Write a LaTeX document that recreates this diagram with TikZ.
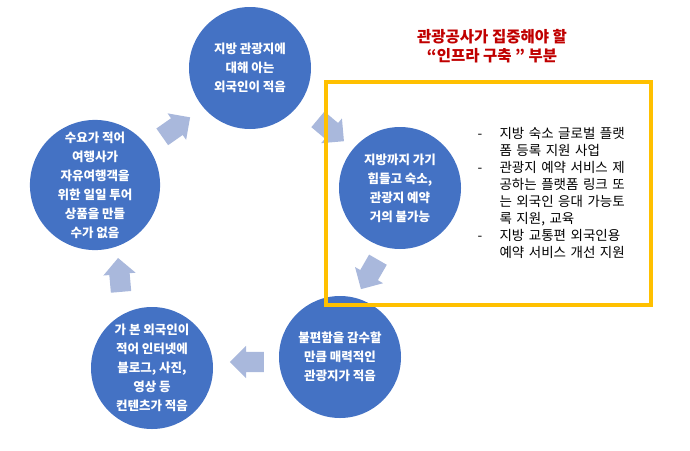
\documentclass[tikz,border=0pt]{standalone}
\usepackage{fontspec}
\setmainfont{Noto Sans CJK KR}
\usetikzlibrary{shapes.arrows}
\definecolor{cb}{HTML}{4472C4}
\definecolor{ar}{HTML}{A9B8DC}
\definecolor{yl}{HTML}{FFC000}
\definecolor{rd}{HTML}{C00000}
\begin{document}
\begin{tikzpicture}[x=1pt,y=-1pt,
 circ/.style={circle,fill=cb,minimum size=122pt,inner sep=0pt,text=white,font=\fontsize{12.5}{19}\selectfont\bfseries,align=center},
 barr/.style={single arrow,fill=ar,minimum height=34pt,inner sep=10pt,single arrow head extend=6pt,text width=0pt}]
\useasboundingbox (0,0) rectangle (690,450);
\node[circ] (c1) at (250,68) {지방 관광지에\\대해 아는\\외국인이 적음};
\node[circ] (c2) at (400,188) {지방까지 가기\\힘들고 숙소,\\관광지 예약\\거의 불가능};
\node[circ] (c3) at (340,357) {불편함을 감수할\\만큼 매력적인\\관광지가 적음};
\node[circ] (c4) at (152,368) {가 본 외국인이\\적어 인터넷에\\블로그, 사진,\\영상 등\\컨텐츠가 적음};
\node[circ,minimum size=130pt] (c5) at (95,185) {수요가 적어\\여행사가\\자유여행객을\\위한 일일 투어\\상품을 만들\\수가 없음};
\node[barr,rotate=-40] (a1) at (327,127) {};
\node[barr,rotate=-120] (a2) at (372,270) {};
\node[barr,rotate=180] (a3) at (252,362) {};
\node[barr,rotate=95] (a4) at (120,280) {};
\node[barr,rotate=35] (a5) at (172,130) {};
\node[draw=yl,line width=4pt,minimum width=325pt,minimum height=223pt,inner sep=0pt] (box) at (488.5,193) {};
\node[text=rd,font=\fontsize{15.5}{19}\selectfont\bfseries,align=center] (t) at (492,46) {관광공사가 집중해야 할\\“인프라 구축 ” 부분};
\node[anchor=north west,align=left,font=\fontsize{13.5}{17}\selectfont,text width=190pt] (lst) at (474,124) {%
\makebox[22pt][l]{-}지방 숙소 글로벌 플랫\\\hspace*{22pt}폼 등록 지원 사업\\
\makebox[22pt][l]{-}관광지 예약 서비스 제\\\hspace*{22pt}공하는 플랫폼 링크 또\\\hspace*{22pt}는 외국인 응대 가능토\\\hspace*{22pt}록 지원, 교육\\
\makebox[22pt][l]{-}지방 교통편 외국인용\\\hspace*{22pt}예약 서비스 개선 지원};
\end{tikzpicture}
\end{document}
